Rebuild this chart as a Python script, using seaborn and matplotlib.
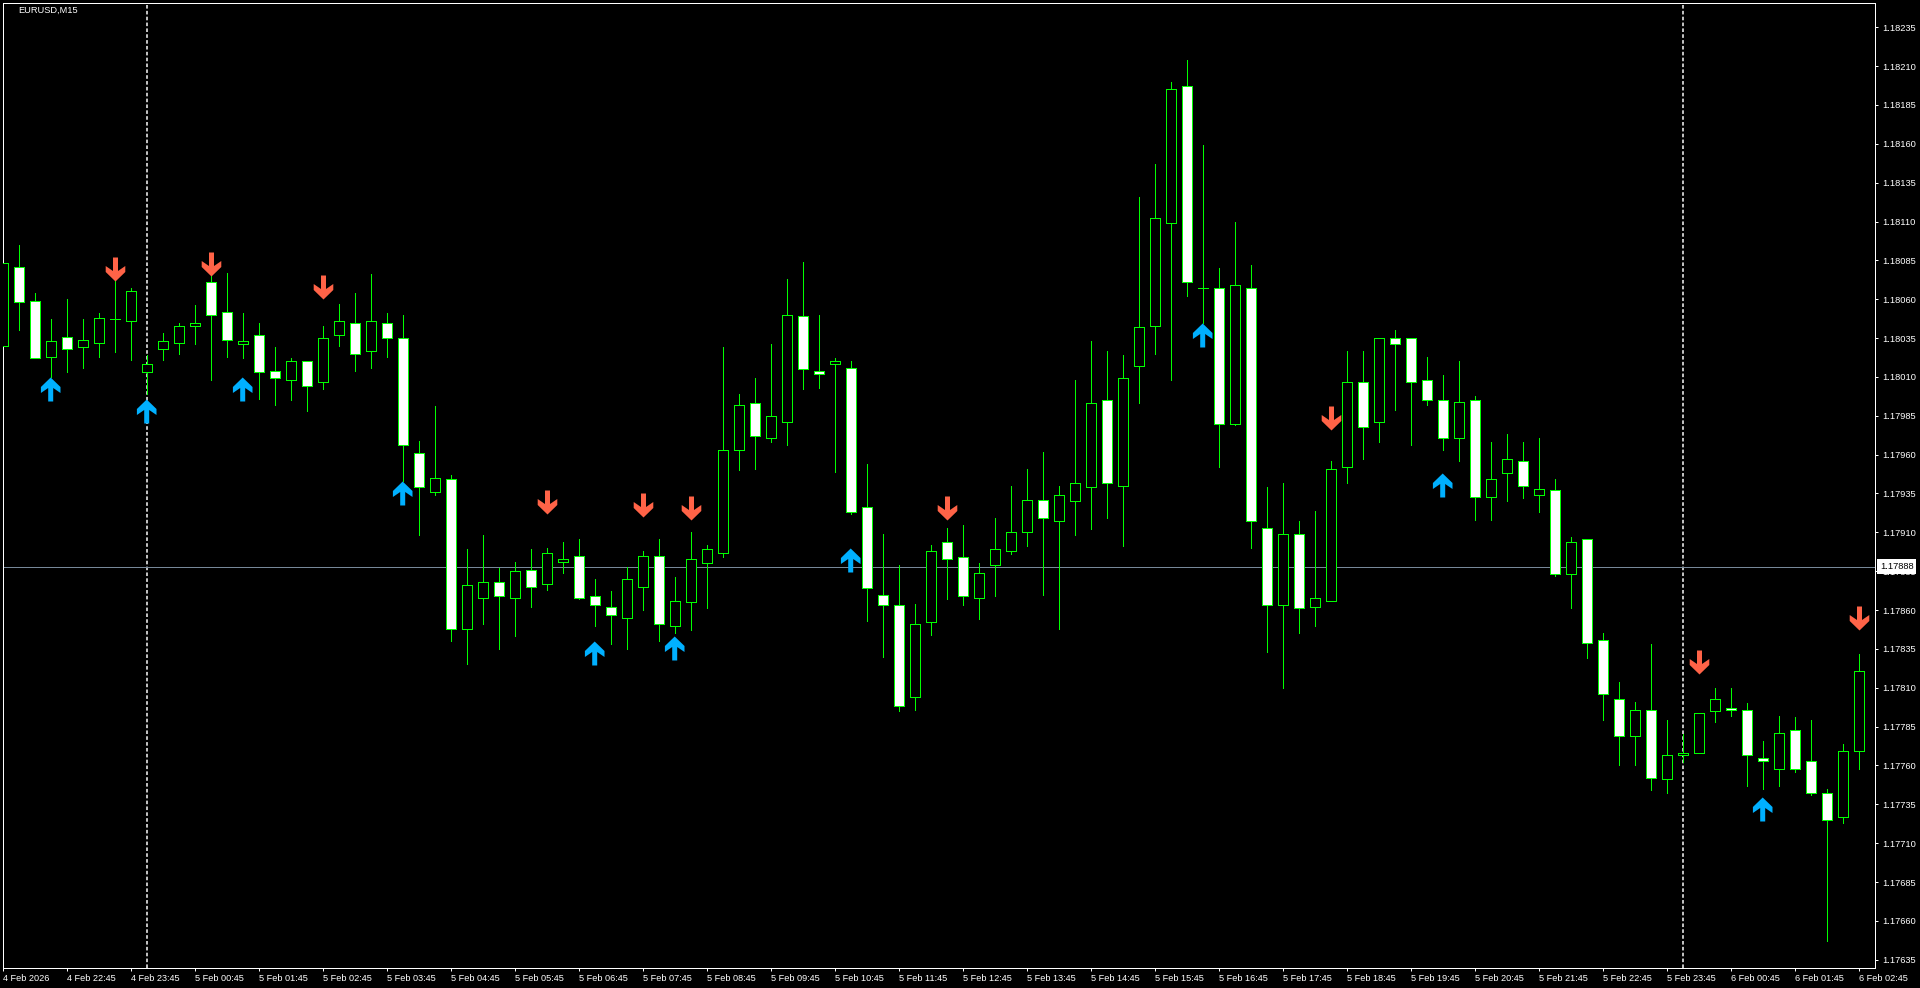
import numpy as np
import pandas as pd
import matplotlib
matplotlib.use("Agg")
import matplotlib.pyplot as plt
from matplotlib.path import Path
import seaborn as sns

# -----------------------------
# Candle data, EURUSD M15
# -----------------------------
opens = [
    1.18030, 1.18081, 1.18059, 1.18023, 1.18036, 1.18029, 1.18032, 1.18047, 1.18046, 1.18013,
    1.18028, 1.18032, 1.18043, 1.18071, 1.18052, 1.18031, 1.18037, 1.18014, 1.18008, 1.18020,
    1.18007, 1.18037, 1.18045, 1.18027, 1.18045, 1.18035, 1.17961, 1.17936, 1.17944, 1.17848,
    1.17868, 1.17878, 1.17868, 1.17886, 1.17877, 1.17891, 1.17895, 1.17869, 1.17862, 1.17855,
    1.17875, 1.17895, 1.17850, 1.17865, 1.17890, 1.17897, 1.17963, 1.17993, 1.17971, 1.17981,
    1.18049, 1.18014, 1.18018, 1.18016, 1.17926, 1.17870, 1.17863, 1.17804, 1.17852, 1.17904,
    1.17894, 1.17868, 1.17889, 1.17898, 1.17910, 1.17931, 1.17917, 1.17930, 1.17939, 1.17995,
    1.17940, 1.18017, 1.18043, 1.18109, 1.18197, 1.18067, 1.18067, 1.17980, 1.18067, 1.17913,
    1.17863, 1.17909, 1.17862, 1.17866, 1.17952, 1.18007, 1.17981, 1.18035, 1.18035, 1.18008,
    1.17995, 1.17971, 1.17995, 1.17933, 1.17948, 1.17956, 1.17934, 1.17937, 1.17883, 1.17906,
    1.17841, 1.17803, 1.17779, 1.17796, 1.17751, 1.17767, 1.17768, 1.17795, 1.17797, 1.17796,
    1.17765, 1.17758, 1.17783, 1.17763, 1.17742, 1.17727, 1.17769,
]
highs = [
    1.18094, 1.18095, 1.18064, 1.18047, 1.18060, 1.18047, 1.18051, 1.18072, 1.18067, 1.18024,
    1.18038, 1.18045, 1.18056, 1.18075, 1.18077, 1.18051, 1.18045, 1.18029, 1.18022, 1.18020,
    1.18043, 1.18057, 1.18064, 1.18076, 1.18051, 1.18050, 1.17969, 1.17991, 1.17947, 1.17899,
    1.17908, 1.17887, 1.17891, 1.17899, 1.17900, 1.17904, 1.17906, 1.17880, 1.17872, 1.17888,
    1.17898, 1.17906, 1.17881, 1.17910, 1.17902, 1.18029, 1.17999, 1.18009, 1.18031, 1.18073,
    1.18084, 1.18050, 1.18022, 1.18020, 1.17954, 1.17909, 1.17889, 1.17864, 1.17902, 1.17913,
    1.17915, 1.17890, 1.17919, 1.17940, 1.17951, 1.17962, 1.17940, 1.18008, 1.18033, 1.18027,
    1.18024, 1.18126, 1.18147, 1.18200, 1.18214, 1.18159, 1.18080, 1.18110, 1.18082, 1.17939,
    1.17942, 1.17917, 1.17924, 1.17956, 1.18027, 1.18027, 1.18035, 1.18040, 1.18035, 1.18023,
    1.18011, 1.18020, 1.17998, 1.17968, 1.17973, 1.17968, 1.17971, 1.17944, 1.17907, 1.17906,
    1.17845, 1.17814, 1.17801, 1.17838, 1.17789, 1.17780, 1.17794, 1.17810, 1.17810, 1.17800,
    1.17776, 1.17792, 1.17791, 1.17789, 1.17745, 1.17774, 1.17832,
]
lows = [
    1.18021, 1.18040, 1.18022, 1.18010, 1.18013, 1.18016, 1.18023, 1.18026, 1.18021, 1.17999,
    1.18021, 1.18025, 1.18031, 1.18008, 1.18023, 1.18022, 1.17996, 1.17992, 1.17995, 1.17988,
    1.18002, 1.18030, 1.18014, 1.18016, 1.18023, 1.17943, 1.17908, 1.17934, 1.17840, 1.17825,
    1.17851, 1.17835, 1.17843, 1.17862, 1.17873, 1.17884, 1.17867, 1.17850, 1.17838, 1.17835,
    1.17860, 1.17840, 1.17845, 1.17847, 1.17861, 1.17894, 1.17950, 1.17951, 1.17968, 1.17966,
    1.18002, 1.18003, 1.17949, 1.17922, 1.17853, 1.17830, 1.17795, 1.17796, 1.17844, 1.17867,
    1.17863, 1.17854, 1.17869, 1.17896, 1.17901, 1.17870, 1.17848, 1.17908, 1.17912, 1.17919,
    1.17901, 1.17993, 1.18025, 1.18008, 1.18062, 1.18045, 1.17952, 1.17979, 1.17900, 1.17833,
    1.17810, 1.17845, 1.17850, 1.17866, 1.17942, 1.17957, 1.17968, 1.17989, 1.17966, 1.17992,
    1.17963, 1.17956, 1.17918, 1.17918, 1.17930, 1.17932, 1.17923, 1.17882, 1.17861, 1.17829,
    1.17789, 1.17760, 1.17760, 1.17744, 1.17742, 1.17762, 1.17768, 1.17788, 1.17792, 1.17747,
    1.17745, 1.17747, 1.17756, 1.17741, 1.17647, 1.17723, 1.17758,
]
closes = [
    1.18083, 1.18058, 1.18022, 1.18033, 1.18028, 1.18034, 1.18048, 1.18047, 1.18065, 1.18018,
    1.18033, 1.18043, 1.18045, 1.18050, 1.18034, 1.18033, 1.18013, 1.18009, 1.18020, 1.18004,
    1.18035, 1.18046, 1.18025, 1.18046, 1.18035, 1.17966, 1.17939, 1.17945, 1.17848, 1.17876,
    1.17878, 1.17869, 1.17885, 1.17875, 1.17897, 1.17893, 1.17868, 1.17863, 1.17857, 1.17880,
    1.17895, 1.17851, 1.17866, 1.17893, 1.17899, 1.17963, 1.17992, 1.17972, 1.17985, 1.18050,
    1.18015, 1.18012, 1.18020, 1.17923, 1.17874, 1.17863, 1.17798, 1.17851, 1.17898, 1.17893,
    1.17869, 1.17884, 1.17899, 1.17910, 1.17931, 1.17919, 1.17934, 1.17942, 1.17993, 1.17942,
    1.18009, 1.18042, 1.18112, 1.18195, 1.18071, 1.18067, 1.17980, 1.18069, 1.17917, 1.17863,
    1.17909, 1.17861, 1.17868, 1.17951, 1.18007, 1.17978, 1.18035, 1.18031, 1.18007, 1.17995,
    1.17971, 1.17994, 1.17933, 1.17944, 1.17957, 1.17940, 1.17938, 1.17883, 1.17904, 1.17839,
    1.17806, 1.17779, 1.17796, 1.17752, 1.17767, 1.17768, 1.17794, 1.17803, 1.17796, 1.17767,
    1.17763, 1.17781, 1.17758, 1.17742, 1.17725, 1.17769, 1.17821,
]

# arrow signals: bar number and price of the arrow tip
up_bars = [3, 9, 15, 25, 37, 42, 53, 75, 90, 110]
up_tips = [1.18010, 1.17996, 1.18010, 1.17943, 1.17840, 1.17843, 1.17900, 1.18045, 1.17948, 1.17740]
down_bars = [7, 13, 20, 34, 40, 43, 59, 83, 106, 116]
down_tips = [1.18072, 1.18075, 1.18060, 1.17922, 1.17920, 1.17918, 1.17918, 1.17976, 1.17819, 1.17847]

period_separators = [9, 105]
last_price = 1.17888
y_ticks = [1.17635 + 0.00025 * k for k in range(25)]
x_labels = ["4 Feb 2026", "4 Feb 22:45", "4 Feb 23:45",
            "5 Feb 00:45", "5 Feb 01:45", "5 Feb 02:45", "5 Feb 03:45", "5 Feb 04:45", "5 Feb 05:45",
            "5 Feb 06:45", "5 Feb 07:45", "5 Feb 08:45", "5 Feb 09:45", "5 Feb 10:45", "5 Feb 11:45",
            "5 Feb 12:45", "5 Feb 13:45", "5 Feb 14:45", "5 Feb 15:45", "5 Feb 16:45", "5 Feb 17:45",
            "5 Feb 18:45", "5 Feb 19:45", "5 Feb 20:45", "5 Feb 21:45", "5 Feb 22:45", "5 Feb 23:45",
            "6 Feb 00:45", "6 Feb 01:45", "6 Feb 02:45"]

# -----------------------------
# Theme
# -----------------------------
sns.set_theme(style="dark", rc={"axes.facecolor": "black", "figure.facecolor": "black"})
plt.rcParams["font.family"] = ["Liberation Sans", "DejaVu Sans"]

PX = 0.72  # one pixel in points at dpi 100
LIME = "#00FF00"
W, H = 1920, 988

fig = plt.figure(figsize=(19.2, 9.88), dpi=100)
ax = fig.add_axes([2.5 / W, 1 - 967.5 / H, (1875 - 2.5) / W, (967.5 - 3) / H])

bars = np.arange(len(opens))
df = pd.DataFrame({"bar": bars, "open": opens, "high": highs, "low": lows, "close": closes})

# -----------------------------
# Separators and last price line
# -----------------------------
for sep in period_separators:
    ax.axvline(sep, color="white", lw=1.5 * PX, ls=(0, (2.4, 1.5)), zorder=1)
ax.axhline(last_price, color="#778899", lw=PX, zorder=1, antialiased=False)

# -----------------------------
# Wicks and bodies
# -----------------------------
wicks = df.melt(id_vars="bar", value_vars=["high", "low"], value_name="price").sort_values("bar")
sns.lineplot(data=wicks, x="bar", y="price", units="bar", estimator=None, color=LIME,
             linewidth=PX, antialiased=False, legend=False, ax=ax, zorder=2)

body_colors = np.where(df["close"] >= df["open"], "black", "white")
ax.bar(df["bar"], (df["close"] - df["open"]).abs(), bottom=df[["open", "close"]].min(axis=1),
       width=0.625, color=body_colors, edgecolor=LIME, linewidth=PX, antialiased=False, zorder=3)

# -----------------------------
# Arrows, anchored at the tip
# -----------------------------
up_shape = [(0, 0), (9.8, -9.5), (9.8, -15.5), (2.5, -10.5), (2.5, -24),
            (-2.5, -24), (-2.5, -10.5), (-9.8, -15.5), (-9.8, -9.5), (0, 0)]
up_marker = Path([(x - 0.8, y) for x, y in up_shape], closed=True)
down_marker = Path([(x, -y) for x, y in up_shape], closed=True)

sns.scatterplot(x=up_bars, y=up_tips, marker=up_marker, s=1194, color="#00B0FF",
                linewidth=0, ax=ax, zorder=5)
sns.scatterplot(x=down_bars, y=down_tips, marker=down_marker, s=1194, color="#FF6347",
                linewidth=0, ax=ax, zorder=5)

# -----------------------------
# Axes
# -----------------------------
ax.set_xlim(-0.0625, 116.97)
ax.set_ylim(1.176300, 1.182506)
ax.set_xlabel("")
ax.set_ylabel("")

ax.set_xticks(bars[::4])
ax.set_xticklabels(x_labels, ha="left")
ax.yaxis.tick_right()
ax.set_yticks(y_ticks)
ax.set_yticklabels([f"{v:.5f}" for v in y_ticks])
ax.tick_params(axis="x", colors="white", labelsize=6.6, length=2.5, width=PX, pad=2.5, bottom=True)
ax.tick_params(axis="y", colors="white", labelsize=6.7, length=2.5, width=PX, pad=2.5, right=True)
for spine in ax.spines.values():
    spine.set_visible(True)
    spine.set_color("white")
    spine.set_linewidth(PX)

ax.text(18 / W, 1 - 10.7 / H, "EURUSD,M15", transform=fig.transFigure, color="white",
        fontsize=6.7, va="center", ha="left")

ax.annotate(f"{last_price:.5f}", xy=(1, last_price), xycoords=("axes fraction", "data"),
            xytext=(3.6, 0), textcoords="offset points", color="black", fontsize=6.7,
            va="center", ha="left", zorder=10, annotation_clip=False,
            bbox=dict(boxstyle="square,pad=0.3", facecolor="white", edgecolor="none"))

fig.savefig("out.png", dpi=100, facecolor="black")
